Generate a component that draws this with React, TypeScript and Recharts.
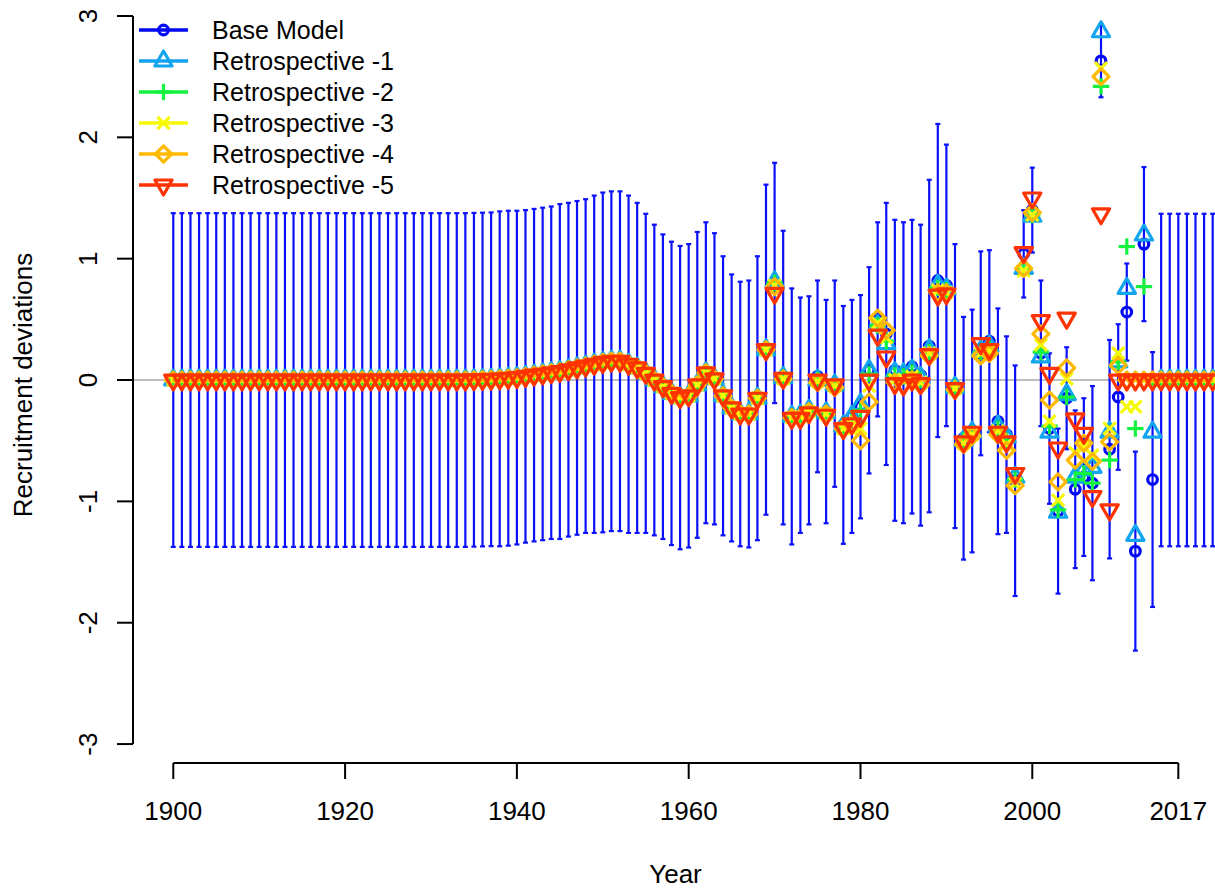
import React from 'react';
import {
  ComposedChart,
  Scatter,
  XAxis,
  YAxis,
  ReferenceLine,
  ErrorBar,
  Legend
} from 'recharts';

const FONT = '"Liberation Sans", Arial, Helvetica, sans-serif';

const firstYear = 1900;

// 1900-1969: all runs share these values
const sharedEarly = [
  0, 0, 0, 0, 0, 0, 0, 0, 0, 0,
  0, 0, 0, 0, 0, 0, 0, 0, 0, 0,
  0, 0, 0, 0, 0, 0, 0, 0, 0, 0,
  0, 0, 0, 0, 0, 0.002, 0.004, 0.006, 0.01, 0.015,
  0.02, 0.03, 0.04, 0.05, 0.06, 0.07, 0.085, 0.1, 0.115, 0.13,
  0.145, 0.155, 0.155, 0.13, 0.1, 0.055, 0, -0.055, -0.11, -0.145,
  -0.13, -0.04, 0.06, 0.01, -0.13, -0.23, -0.28, -0.28, -0.15, 0.25
];

// 1970-2021
const baseTail = [
  0.8, 0.02, -0.3, -0.29, -0.25, 0.03, -0.26, -0.03, -0.37, -0.3,
  -0.22, 0.08, 0.5, 0.38, 0.08, 0.06, 0.11, 0.04, 0.28, 0.82,
  0.78, -0.05, -0.48, -0.42, 0.22, 0.32, -0.34, -0.45, -0.83, 1.04,
  1.4, 0.22, -0.4, -1.08, -0.15, -0.9, -0.8, -0.85, 2.63, -0.57,
  -0.14, 0.56, -1.41, 1.12, -0.82, 0, 0, 0, 0, 0,
  0, 0
];
const retro1Tail = [
  0.81, 0.02, -0.3, -0.29, -0.25, 0.0, -0.27, -0.04, -0.38, -0.3,
  -0.2, 0.08, 0.45, 0.3, 0.06, 0.05, 0.08, 0.02, 0.25, 0.78,
  0.75, -0.06, -0.5, -0.43, 0.24, 0.28, -0.38, -0.47, -0.8, 0.92,
  1.35, 0.19, -0.43, -1.09, -0.12, -0.8, -0.74, -0.72, 2.87, -0.43,
  0.15, 0.755, -1.28, 1.195, -0.43, 0, 0, 0, 0, 0,
  0, 0
];
const retro2Tail = [
  0.8, 0.02, -0.3, -0.3, -0.26, 0.0, -0.28, -0.05, -0.39, -0.32,
  -0.25, 0.05, 0.45, 0.32, 0.04, 0.03, 0.06, 0.0, 0.23, 0.76,
  0.74, -0.06, -0.5, -0.44, 0.23, 0.26, -0.4, -0.5, -0.82, 0.92,
  1.36, 0.23, -0.38, -1.07, -0.14, -0.82, -0.77, -0.85, 2.42, -0.66,
  0.15, 1.1, -0.4, 0.77, 0, 0, 0, 0, 0, 0,
  0, 0
];
const retro3Tail = [
  0.78, 0.01, -0.31, -0.3, -0.26, -0.01, -0.28, -0.05, -0.4, -0.36,
  -0.4, -0.05, 0.47, 0.35, 0.0, 0.0, 0.03, -0.02, 0.22, 0.74,
  0.72, -0.07, -0.52, -0.45, 0.22, 0.24, -0.42, -0.53, -0.85, 0.9,
  1.36, 0.29, -0.34, -0.99, 0.01, -0.6, -0.55, -0.62, 2.57, -0.4,
  0.22, -0.22, -0.22, 0, 0, 0, 0, 0, 0, 0,
  0, 0
];
const retro4Tail = [
  0.77, 0.01, -0.31, -0.31, -0.26, -0.02, -0.28, -0.06, -0.4, -0.37,
  -0.5, -0.18, 0.51, 0.41, -0.02, -0.04, 0.0, -0.04, 0.2, 0.72,
  0.72, -0.08, -0.53, -0.46, 0.2, 0.22, -0.45, -0.58, -0.87, 0.92,
  1.38, 0.38, -0.165, -0.84, 0.1, -0.66, -0.52, -0.67, 2.5, -0.51,
  0.12, 0, 0, 0, 0, 0, 0, 0, 0, 0,
  0, 0
];
const retro5Tail = [
  0.715, 0.015, -0.315, -0.315, -0.27, 0.0, -0.29, -0.04, -0.4, -0.36,
  -0.3, 0.0, 0.37, 0.19, -0.03, -0.04, 0.0, -0.03, 0.21, 0.7,
  0.71, -0.07, -0.51, -0.43, 0.3, 0.25, -0.43, -0.51, -0.77, 1.05,
  1.5, 0.49, 0.055, -0.56, 0.51, -0.32, -0.44, -0.96, 1.37, -1.07,
  0, 0, 0, 0, 0, 0, 0, 0, 0, 0,
  0, 0
];

// half-width of the base model 95% interval, 1900-2021
const baseHalfWidth = [
  1.375, 1.375, 1.375, 1.375, 1.375, 1.375, 1.375, 1.375, 1.375, 1.375,
  1.375, 1.375, 1.375, 1.375, 1.375, 1.375, 1.375, 1.375, 1.375, 1.375,
  1.375, 1.375, 1.375, 1.375, 1.375, 1.375, 1.375, 1.375, 1.375, 1.375,
  1.375, 1.375, 1.375, 1.375, 1.375, 1.375, 1.375, 1.375, 1.38, 1.38,
  1.375, 1.37, 1.37, 1.37, 1.37, 1.38, 1.375, 1.375, 1.375, 1.39,
  1.4, 1.4, 1.4, 1.39, 1.36, 1.315, 1.28, 1.255, 1.25, 1.25,
  1.25, 1.26, 1.24, 1.2, 1.15, 1.1, 1.09, 1.1, 1.17, 1.36,
  0.99, 1.21, 1.055, 0.97, 0.94, 0.79, 0.92, 0.85, 0.98, 0.96,
  0.92, 0.85, 0.8, 1.08, 1.24, 1.24, 1.21, 1.24, 1.37, 1.29,
  1.16, 1.17, 1.0, 1.0, 0.84, 0.75, 0.93, 0.81, 0.95, 0.36,
  0.35, 0.6, 0.62, 0.68, 0.42, 0.65, 0.65, 0.8, 0.3, 0.9,
  0.6, 0.4, 0.82, 0.635, 1.05, 1.37, 1.37, 1.37, 1.37, 1.37,
  1.37, 1.37
];

const xTicks = [1900, 1920, 1940, 1960, 1980, 2000, 2017];
const yTicks = [-3, -2, -1, 0, 1, 2, 3];

const X_DOMAIN: [number, number] = [1895.31, 2021.27];
const Y_DOMAIN: [number, number] = [-3.156, 3.074];

type Kind = 'circle' | 'triUp' | 'plus' | 'cross' | 'diamond' | 'triDown';

const runs: { name: string; color: string; kind: Kind; values: number[] }[] = [
  { name: 'Base Model', color: '#0008F4', kind: 'circle', values: [...sharedEarly, ...baseTail] },
  { name: 'Retrospective -1', color: '#12A4EE', kind: 'triUp', values: [...sharedEarly, ...retro1Tail] },
  { name: 'Retrospective -2', color: '#13F23F', kind: 'plus', values: [...sharedEarly, ...retro2Tail] },
  { name: 'Retrospective -3', color: '#F6F905', kind: 'cross', values: [...sharedEarly, ...retro3Tail] },
  { name: 'Retrospective -4', color: '#FFB900', kind: 'diamond', values: [...sharedEarly, ...retro4Tail] },
  { name: 'Retrospective -5', color: '#FF3300', kind: 'triDown', values: [...sharedEarly, ...retro5Tail] }
];

const BAR_COLOR = '#0A10FA';
const SW = 3.2;

const Marker = ({ kind, cx, cy, color }: { kind: Kind; cx: number; cy: number; color: string }) => {
  const common = { fill: 'none', stroke: color, strokeWidth: SW };
  if (kind === 'circle') return <circle cx={cx} cy={cy} r={4.8} {...common} />;
  if (kind === 'triUp' || kind === 'triDown') {
    const s = 6.4;
    const r = 1.555 * s;
    const yc = 0.778 * s;
    const xc = 1.347 * s;
    const d = kind === 'triUp' ? 1 : -1;
    const pts = `${cx},${cy - d * r} ${cx + xc},${cy + d * yc} ${cx - xc},${cy + d * yc}`;
    return <polygon points={pts} {...common} strokeLinejoin="round" />;
  }
  if (kind === 'diamond') {
    const h = 8;
    const pts = `${cx},${cy - h} ${cx + h},${cy} ${cx},${cy + h} ${cx - h},${cy}`;
    return <polygon points={pts} {...common} strokeLinejoin="round" />;
  }
  if (kind === 'plus') {
    const h = 8.2;
    return (
      <g {...common}>
        <line x1={cx - h} y1={cy} x2={cx + h} y2={cy} />
        <line x1={cx} y1={cy - h} x2={cx} y2={cy + h} />
      </g>
    );
  }
  const h = 6.1;
  return (
    <g {...common}>
      <line x1={cx - h} y1={cy - h} x2={cx + h} y2={cy + h} />
      <line x1={cx - h} y1={cy + h} x2={cx + h} y2={cy - h} />
    </g>
  );
};

const toPoints = (values: number[]) =>
  values.map((v, i) => ({ year: firstYear + i, value: v }));

const errorData = runs[0].values.map((v, i) => ({
  year: firstYear + i,
  value: v,
  err: baseHalfWidth[i]
}));

const XTick = (props: any) => {
  const { x, y, payload } = props;
  return (
    <text x={x} y={y} textAnchor="middle" fontFamily={FONT} fontSize={26} fill="#000">
      {payload.value}
    </text>
  );
};

const YTick = (props: any) => {
  const { x, y, payload } = props;
  return (
    <text
      x={x}
      y={y}
      transform={`rotate(-90, ${x}, ${y})`}
      textAnchor="middle"
      fontFamily={FONT}
      fontSize={26}
      fill="#000"
    >
      {payload.value}
    </text>
  );
};

const renderLegend = () => (
  <svg width={420} height={200} style={{ display: 'block' }}>
    {runs.map((r, i) => {
      const cy = 30 + i * 31;
      return (
        <g key={r.name}>
          <line x1={139} y1={cy} x2={188} y2={cy} stroke={r.color} strokeWidth={3.5} />
          <Marker kind={r.kind} cx={163.5} cy={cy} color={r.color} />
          <text x={212} y={cy + 8.5} fontFamily={FONT} fontSize={25} fill="#000">
            {r.name}
          </text>
        </g>
      );
    })}
  </svg>
);

export default function App() {
  return (
    <div style={{ width: 1215, height: 892, position: 'relative', background: '#fff' }}>
      <style>{'body{margin:0;}'}</style>
      <ComposedChart width={1215} height={892} margin={{ top: 7, right: 0, bottom: 0, left: 0 }}>
        <XAxis
          type="number"
          dataKey="year"
          domain={X_DOMAIN}
          allowDataOverflow
          ticks={xTicks}
          interval={0}
          height={129}
          axisLine={false}
          tickLine={{ stroke: '#000', strokeWidth: 2 }}
          tickSize={16}
          tickMargin={41}
          tick={<XTick />}
          label={{
            content: () => (
              <text x={675.5} y={883} textAnchor="middle" fontFamily={FONT} fontSize={26} fill="#000">
                Year
              </text>
            )
          }}
        />
        <YAxis
          type="number"
          domain={Y_DOMAIN}
          allowDataOverflow
          ticks={yTicks}
          interval={0}
          width={133}
          axisLine={false}
          tickLine={{ stroke: '#000', strokeWidth: 2 }}
          tickSize={16}
          tickMargin={20}
          tick={<YTick />}
          label={{
            content: () => (
              <text
                x={32}
                y={385}
                transform="rotate(-90, 32, 385)"
                textAnchor="middle"
                fontFamily={FONT}
                fontSize={26}
                fill="#000"
              >
                Recruitment deviations
              </text>
            )
          }}
        />
        <ReferenceLine y={0} stroke="#BEBEBE" strokeWidth={2} />
        <ReferenceLine
          segment={[{ x: X_DOMAIN[0], y: -3 }, { x: X_DOMAIN[0], y: 3 }]}
          stroke="#000"
          strokeWidth={2}
          ifOverflow="visible"
        />
        <ReferenceLine
          segment={[{ x: 1900, y: Y_DOMAIN[0] }, { x: 2017, y: Y_DOMAIN[0] }]}
          stroke="#000"
          strokeWidth={2}
          ifOverflow="visible"
        />
        <Scatter
          name="interval"
          data={errorData}
          dataKey="value"
          shape={() => <g />}
          isAnimationActive={false}
          legendType="none"
        >
          <ErrorBar dataKey="err" direction="y" width={2.5} stroke={BAR_COLOR} strokeWidth={2.2} />
        </Scatter>
        {runs.map((r) => (
          <Scatter
            key={r.name}
            name={r.name}
            data={toPoints(r.values)}
            dataKey="value"
            isAnimationActive={false}
            shape={(p: any) => <Marker kind={r.kind} cx={p.cx} cy={p.cy} color={r.color} />}
          />
        ))}
        <Legend
          layout="vertical"
          align="center"
          verticalAlign="middle"
          wrapperStyle={{ left: 0, top: 0, width: 420, height: 200 }}
          content={renderLegend}
        />
      </ComposedChart>
    </div>
  );
}
